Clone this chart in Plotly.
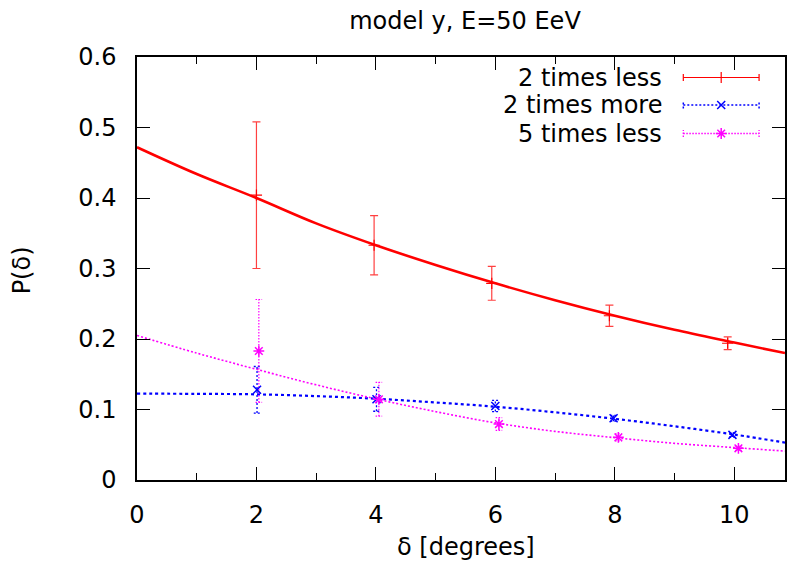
import plotly.graph_objects as go

# ---------------- data ----------------
title_text = "model y, E=50 EeV"
series_names = ["2 times less", "2 times more", "5 times less"]

# measured points with error bars
less2_x = [2.0, 3.97, 5.94, 7.91, 9.89]
less2_y = [0.404, 0.333, 0.279, 0.233, 0.194]
less2_err = [0.104, 0.042, 0.024, 0.015, 0.009]

more2_x = [2.01, 4.01, 6.0, 7.98, 9.97]
more2_y = [0.128, 0.1145, 0.105, 0.0875, 0.064]
more2_err = [0.033, 0.017, 0.008, 0.004, 0.003]

less5_x = [2.04, 4.05, 6.06, 8.06, 10.07]
less5_y = [0.183, 0.1145, 0.0794, 0.0605, 0.045]
less5_err = [0.073, 0.024, 0.009, 0.005, 0.003]

# fitted curves
curve_x = [0, 1, 2, 3, 4, 5, 6, 7, 8, 9, 10, 10.85]
less2_curve = [0.472, 0.434, 0.400, 0.364, 0.333, 0.305, 0.279, 0.255, 0.233, 0.213, 0.195, 0.180]
more2_curve = [0.1225, 0.1222, 0.1215, 0.119, 0.1153, 0.110, 0.104, 0.096, 0.0868, 0.0762, 0.0645, 0.053]
less5_curve = [0.205, 0.180, 0.157, 0.135, 0.115, 0.097, 0.081, 0.069, 0.060, 0.052, 0.046, 0.041]

x_ticks = [0, 2, 4, 6, 8, 10]
y_ticks = [0, 0.1, 0.2, 0.3, 0.4, 0.5, 0.6]
y_tick_labels = ["0", "0.1", "0.2", "0.3", "0.4", "0.5", "0.6"]

# ---------------- styling ----------------
FONT = "DejaVu Sans"
FS = 24
RED, BLUE, MAG = "#ff0000", "#0000ff", "#ff00ff"
W, H = 788, 569
PLOT_L, PLOT_R, PLOT_T, PLOT_B = 137, 787, 57, 480   # plot frame in page pixels
L = PLOT_L
R = W - PLOT_R
T = PLOT_T
B = H - PLOT_B


def px2x(px):
    return (px - PLOT_L) / (PLOT_R - PLOT_L)


def px2y(py):
    return (PLOT_B - py) / (PLOT_B - PLOT_T)


def err_paths(xs, ys, es, cap):
    X, Y = [], []
    for x, y, e in zip(xs, ys, es):
        X += [x, x, None, x - cap, x + cap, None, x - cap, x + cap, None]
        Y += [y - e, y + e, None, y - e, y - e, None, y + e, y + e, None]
    return X, Y


fig = go.Figure()

# curves
fig.add_trace(go.Scatter(x=curve_x, y=less2_curve, mode="lines", line=dict(color=RED, width=2.6, shape="spline"), showlegend=False))
fig.add_trace(go.Scatter(x=curve_x, y=more2_curve, mode="lines", line=dict(color=BLUE, width=2.2, dash="3px,3px", shape="spline"), showlegend=False))
fig.add_trace(go.Scatter(x=curve_x, y=less5_curve, mode="lines", line=dict(color=MAG, width=1.6, dash="2px,2px", shape="spline"), showlegend=False))

# red points with solid error bars
fig.add_trace(go.Scatter(
    x=less2_x, y=less2_y, mode="markers",
    marker=dict(symbol="cross-thin", size=8, line=dict(color=RED, width=1.2), color=RED),
    error_y=dict(type="data", array=less2_err, color="rgba(255,0,0,0.75)", thickness=1.2, width=4),
    showlegend=False))

# blue / magenta dotted error bars
ex, ey = err_paths(more2_x, more2_y, more2_err, 0.055)
fig.add_trace(go.Scatter(x=ex, y=ey, mode="lines", line=dict(color=BLUE, width=1.3, dash="2px,2px"), showlegend=False))
ex, ey = err_paths(less5_x, less5_y, less5_err, 0.055)
fig.add_trace(go.Scatter(x=ex, y=ey, mode="lines", line=dict(color=MAG, width=1.2, dash="1.5px,1.5px"), showlegend=False))

fig.add_trace(go.Scatter(x=more2_x, y=more2_y, mode="markers",
                         marker=dict(symbol="x-thin", size=8, line=dict(color=BLUE, width=1.5), color=BLUE), showlegend=False))
fig.add_trace(go.Scatter(x=less5_x, y=less5_y, mode="markers",
                         marker=dict(symbol="asterisk", size=9, line=dict(color=MAG, width=1.5), color=MAG), showlegend=False))

# ---------------- manual gnuplot-style key (paper coordinates via overlay axes) ----------------
key_rows = [77.5, 105, 133.5]
key_styles = [
    dict(color=RED, width=1.2, dash="solid"),
    dict(color=BLUE, width=1.5, dash="2px,2px"),
    dict(color=MAG, width=1.3, dash="1.5px,1.5px"),
]
key_markers = [
    dict(symbol="cross-thin", size=8, line=dict(color=RED, width=1.2)),
    dict(symbol="x-thin", size=8, line=dict(color=BLUE, width=1.5)),
    dict(symbol="asterisk", size=9, line=dict(color=MAG, width=1.5)),
]
x0, x1, xm = px2x(685), px2x(761), px2x(723)
for name, row, ls, mk in zip(series_names, key_rows, key_styles, key_markers):
    yc = px2y(row)
    dy = 3.5 / (PLOT_B - PLOT_T)
    fig.add_trace(go.Scatter(
        x=[x0, x1, None, x0, x0, None, x1, x1],
        y=[yc, yc, None, yc - dy, yc + dy, None, yc - dy, yc + dy],
        mode="lines", line=ls, xaxis="x2", yaxis="y2", showlegend=False, hoverinfo="skip"))
    fig.add_trace(go.Scatter(x=[xm], y=[yc], mode="markers", marker=mk,
                             xaxis="x2", yaxis="y2", showlegend=False, hoverinfo="skip"))
    fig.add_annotation(x=px2x(666), y=yc, xref="paper", yref="paper", text=name, showarrow=False,
                       xanchor="right", yanchor="middle", font=dict(family=FONT, size=FS, color="black"))

# titles
fig.add_annotation(x=px2x(467), y=px2y(547), xref="paper", yref="paper", text="δ [degrees]", showarrow=False,
                   xanchor="center", yanchor="middle", font=dict(family=FONT, size=FS, color="black"))
fig.add_annotation(x=px2x(22), y=px2y(270), xref="paper", yref="paper", text="P(δ)", showarrow=False,
                   textangle=-90, xanchor="center", yanchor="middle", font=dict(family=FONT, size=FS, color="black"))

axis_common = dict(showgrid=False, zeroline=False, showline=True, linecolor="black", linewidth=1.5,
                   mirror="ticks", ticks="inside", ticklen=13, tickwidth=1.3, tickcolor="black",
                   tickfont=dict(family=FONT, size=FS, color="black"))

fig.update_layout(
    width=W, height=H,
    margin=dict(l=L, r=R, t=T, b=B, pad=0),
    paper_bgcolor="white", plot_bgcolor="white",
    title=dict(text=title_text, x=465 / W, xref="container", xanchor="center",
               y=1 - 21 / H, yanchor="middle", font=dict(family=FONT, size=FS, color="black")),
    xaxis=dict(range=[0, 10.85], tickvals=x_ticks, ticktext=[str(v) for v in x_ticks],
               minor=dict(dtick=1, ticks="inside", ticklen=7, tickwidth=1.3, tickcolor="black"),
               ticklabelstandoff=12, **axis_common),
    yaxis=dict(range=[0, 0.6], tickvals=y_ticks, ticktext=y_tick_labels, ticklabelstandoff=14, **axis_common),
    xaxis2=dict(overlaying="x", range=[0, 1], visible=False, fixedrange=True),
    yaxis2=dict(overlaying="y", range=[0, 1], visible=False, fixedrange=True),
    showlegend=False,
)

fig.write_html("out.html", config={"displayModeBar": False},
               post_script="document.body.style.margin='0px';")
